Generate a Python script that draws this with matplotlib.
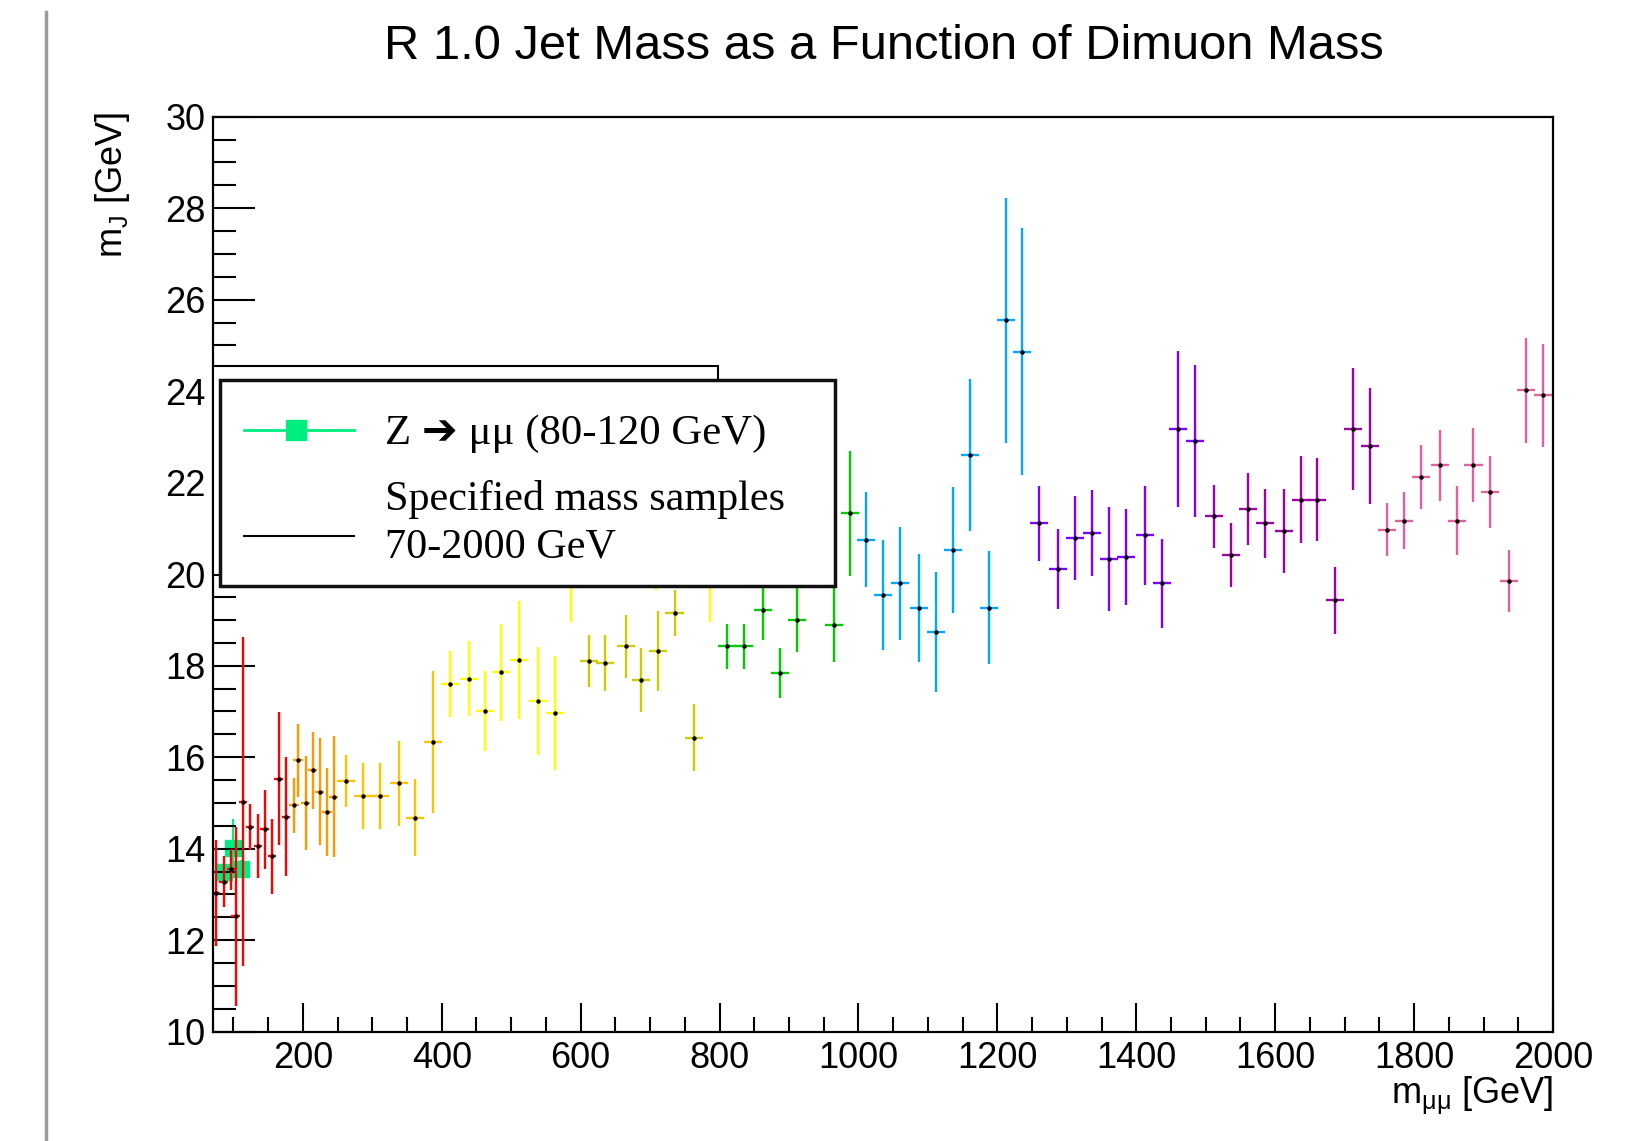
import matplotlib.pyplot as plt
from matplotlib.patches import Rectangle
from matplotlib.lines import Line2D
from matplotlib.ticker import MultipleLocator

# jet mass vs dimuon mass, one group per colour
red_x = [75.4, 85.9, 96.9, 103.2, 113.7, 124.3, 135.3, 144.9, 156.0, 165.2, 176.0]
red_y = [13.03, 13.28, 13.55, 12.52, 15.03, 14.48, 14.06, 14.42, 13.84, 15.53, 14.70]
red_err = [1.15, 0.55, 0.45, 1.95, 3.60, 0.50, 0.69, 0.86, 0.82, 1.45, 1.30]

orange_x = [186.9, 193.0, 204.0, 214.1, 224.2, 235.3, 244.3]
orange_y = [14.95, 15.93, 15.00, 15.71, 15.24, 14.81, 15.14]
orange_err = [0.60, 0.79, 1.02, 0.84, 1.17, 0.96, 1.32]

amber_x = [262.4, 286.6, 310.8, 338.0, 362.2, 387.3]
amber_y = [15.48, 15.16, 15.16, 15.43, 14.68, 16.33]
amber_err = [0.56, 0.72, 0.72, 0.93, 0.84, 1.56]

yellow_x = [411.5, 438.7, 462.9, 486.0, 511.2, 538.4, 562.6, 585.8, 709.0, 787.0]
yellow_y = [17.60, 17.71, 17.01, 17.86, 18.12, 17.23, 16.97, 20.10, 20.60, 20.20]
yellow_err = [0.72, 0.82, 0.87, 1.06, 1.29, 1.18, 1.24, 1.15, 0.95, 1.25]

olive_x = [611.5, 635.1, 664.7, 686.9, 711.4, 735.2, 763.0]
olive_y = [18.11, 18.06, 18.42, 17.69, 18.32, 19.16, 16.43]
olive_err = [0.57, 0.62, 0.68, 0.70, 0.87, 0.50, 0.73]

green_x = [811.4, 835.5, 862.7, 887.3, 911.1, 964.6, 987.6]
green_y = [18.42, 18.42, 19.22, 17.84, 19.00, 18.90, 21.33]
green_err = [0.50, 0.50, 0.65, 0.55, 0.71, 0.82, 1.37]

blue_x = [1011.5, 1036.0, 1060.0, 1087.3, 1112.2, 1136.3, 1160.3, 1188.1, 1212.1, 1236.0]
blue_y = [20.75, 19.54, 19.80, 19.27, 18.74, 20.53, 22.60, 19.27, 25.55, 24.86]
blue_err = [1.04, 1.20, 1.24, 1.18, 1.31, 1.37, 1.66, 1.24, 2.68, 2.70]

violet_x = [1260.6, 1287.8, 1311.9, 1335.8, 1360.7, 1384.8, 1412.1, 1436.5, 1460.4, 1484.5]
violet_y = [21.11, 20.11, 20.79, 20.90, 20.33, 20.38, 20.85, 19.80, 23.17, 22.91]
violet_err = [0.82, 0.87, 0.92, 0.95, 1.13, 1.05, 1.08, 0.98, 1.70, 1.66]

purple_x = [1511.4, 1536.6, 1560.7, 1584.8, 1612.5, 1636.6, 1660.4, 1685.5, 1712.2, 1736.3]
purple_y = [21.27, 20.42, 21.43, 21.11, 20.95, 21.63, 21.63, 19.43, 23.17, 22.80]
purple_err = [0.69, 0.70, 0.79, 0.76, 0.92, 0.95, 0.90, 0.73, 1.34, 1.26]

pink_x = [1761.2, 1785.5, 1809.6, 1837.0, 1861.5, 1885.5, 1909.3, 1937.3, 1961.2, 1985.2]
pink_y = [20.97, 21.17, 22.12, 22.38, 21.17, 22.38, 21.80, 19.85, 24.02, 23.91]
pink_err = [0.58, 0.63, 0.70, 0.77, 0.76, 0.81, 0.78, 0.68, 1.15, 1.13]

z_x = [87.0, 100.0, 111.0]
z_y = [13.49, 14.02, 13.55]
z_err = [0.20, 0.62, 0.20]

groups = [
    (red_x, red_y, red_err, 6, "#ff0000"),
    (orange_x, orange_y, orange_err, 7, "#ff9900"),
    (amber_x, amber_y, amber_err, 13, "#ffc400"),
    (yellow_x, yellow_y, yellow_err, 13, "#ffff00"),
    (olive_x, olive_y, olive_err, 13, "#cccc00"),
    (green_x, green_y, green_err, 13, "#00cc00"),
    (blue_x, blue_y, blue_err, 13, "#00a8ff"),
    (violet_x, violet_y, violet_err, 13, "#8000ff"),
    (purple_x, purple_y, purple_err, 13, "#a000a8"),
    (pink_x, pink_y, pink_err, 13, "#e060a0"),
]

z_color = "#00ee80"

plt.rcParams["font.family"] = ["Liberation Sans", "DejaVu Sans"]

W, H = 1641, 1141
fig = plt.figure(figsize=(W / 100, H / 100), dpi=100)
ax = fig.add_axes([212.5 / W, 1 - 1031.7 / H, (1553 - 212.5) / W, (1031.7 - 116.7) / H])
ax.set_xlim(70, 2000)
ax.set_ylim(10, 30)

# Z -> mumu squares go under the coloured bars
ax.errorbar(z_x, z_y, yerr=z_err, fmt="s", ms=11.5, color=z_color, mec=z_color,
            elinewidth=1.5, capsize=0, zorder=1)

for gx, gy, gerr, xerr, col in groups:
    ax.errorbar(gx, gy, yerr=gerr, xerr=xerr, fmt="none", ecolor=col,
                elinewidth=1.7, capsize=0, zorder=2)
    ax.plot(gx, gy, "o", color="k", ms=2.2, zorder=3)

ax.xaxis.set_major_locator(MultipleLocator(200))
ax.xaxis.set_minor_locator(MultipleLocator(50))
ax.yaxis.set_major_locator(MultipleLocator(2))
ax.yaxis.set_minor_locator(MultipleLocator(0.5))
ax.tick_params(axis="both", which="both", direction="in", top=False, right=False,
               width=1.5, labelsize=26)
ax.tick_params(axis="y", which="major", length=30, pad=5)
ax.tick_params(axis="y", which="minor", length=16.5)
ax.tick_params(axis="x", which="major", length=21, pad=7)
ax.tick_params(axis="x", which="minor", length=11)
for s in ax.spines.values():
    s.set_linewidth(1.6)

fig.text(883.5 / W, 1 - 59 / H, "R 1.0 Jet Mass as a Function of Dimuon Mass",
         ha="center", va="baseline", fontsize=35.2)
fig.text(113 / W, 1 - 112 / H, r"m$_{\mathregular{J}}$ [GeV]", rotation=90,
         ha="center", va="top", fontsize=26)
fig.text(1553 / W, 1 - 1104 / H, r"m$_{\mathregular{μμ}}$ [GeV]",
         ha="right", va="baseline", fontsize=26)

# slide edge on the left
fig.add_artist(Line2D([46 / W, 46 / W], [0, 1 - 12 / H], transform=fig.transFigure,
                      color="#9a9a9a", lw=2.5))

# legend, drawn by hand (an older box peeks out behind it)
fig.add_artist(Rectangle((212.5 / W, 1 - 575 / H), (718 - 212.5) / W, (575 - 366) / H,
                         transform=fig.transFigure, facecolor="white",
                         edgecolor="black", lw=1.5, zorder=5))
fig.add_artist(Rectangle((220 / W, 1 - 586 / H), (835 - 220) / W, (586 - 380) / H,
                         transform=fig.transFigure, facecolor="white",
                         edgecolor="#111111", lw=2.5, zorder=6))
fig.add_artist(Line2D([244 / W, 354 / W], [1 - 430 / H] * 2, transform=fig.transFigure,
                      color=z_color, lw=2, zorder=7))
fig.add_artist(Line2D([296 / W], [1 - 430 / H], transform=fig.transFigure, marker="s",
                      ms=15, color=z_color, mec=z_color, lw=0, zorder=7))
fig.add_artist(Line2D([244 / W, 354 / W], [1 - 536 / H] * 2, transform=fig.transFigure,
                      color="black", lw=1.5, zorder=7))

serif = ["Liberation Serif", "DejaVu Sans"]
fig.text(385 / W, 1 - 444 / H, "Z ➔ μμ (80-120 GeV)", family=serif, fontsize=30.8,
         va="baseline", zorder=8)
fig.text(385 / W, 1 - 510 / H, "Specified mass samples", family=serif, fontsize=30.3,
         va="baseline", zorder=8)
fig.text(385 / W, 1 - 558 / H, "70-2000 GeV", family=serif, fontsize=30.3,
         va="baseline", zorder=8)

fig.savefig("out.png", dpi=100)
